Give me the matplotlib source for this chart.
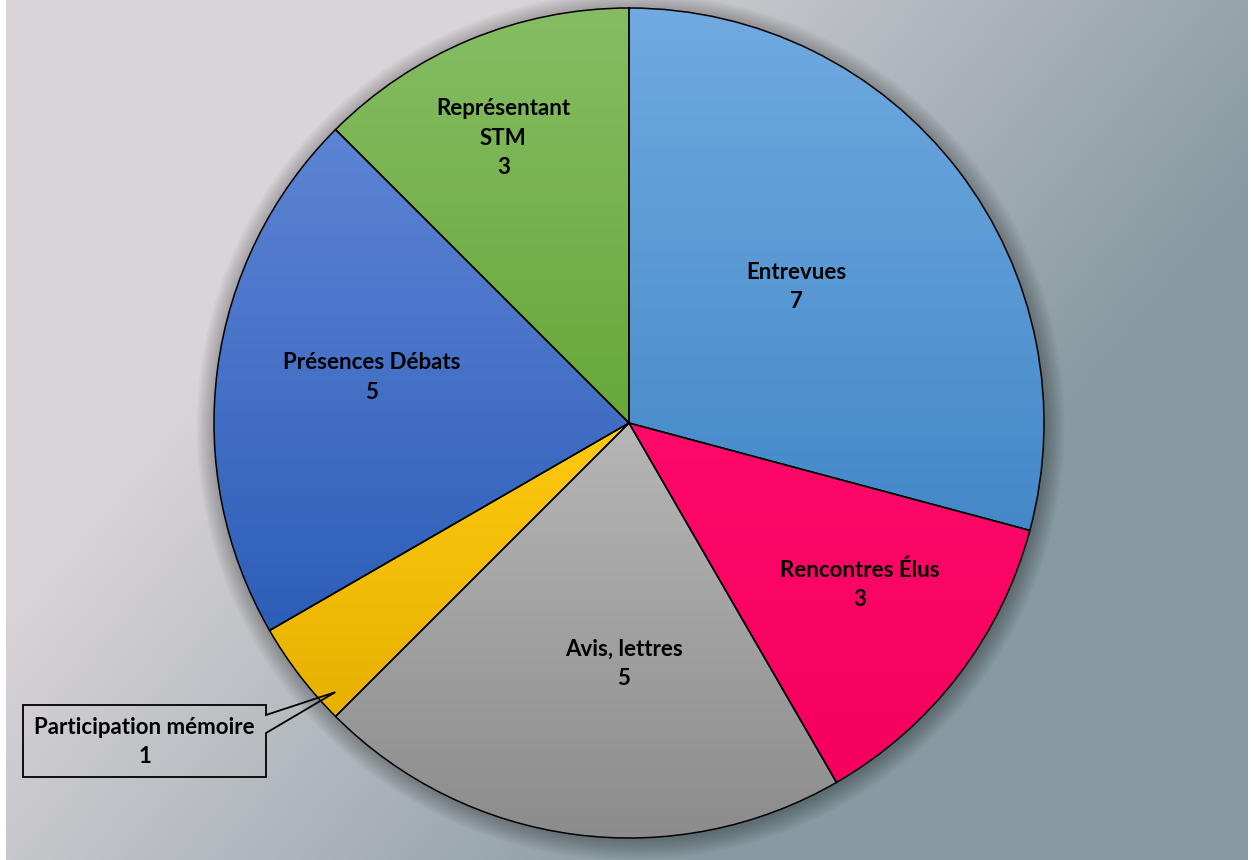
import numpy as np
import matplotlib.pyplot as plt
from matplotlib.patches import Polygon, Circle
from matplotlib.colors import LinearSegmentedColormap, to_rgb

# Data
categories = ["Entrevues", "Rencontres Élus", "Avis, lettres",
              "Participation mémoire", "Présences Débats", "Représentant\nSTM"]
values = [7, 3, 5, 1, 5, 3]

# Slice gradients (top colour, bottom colour)
grad_top = ["#70aae0", "#ff0a6a", "#b6b6b6", "#ffca10", "#5d84d4", "#86bd64"]
grad_bot = ["#4388c8", "#f5005e", "#8c8c8c", "#e8b000", "#2d5eb8", "#66a838"]

# label placement (fraction of radius, nudge in degrees from slice middle)
label_r = [0.52, 0.68, 0.58, None, 0.63, 0.75]
label_nudge = [1.5, 2.5, 6.3, 0, -2.5, 1.3]

plt.rcParams['font.family'] = ['Lato', 'DejaVu Sans']
FS = 16

W, H = 1251, 860
cx, cy, R = 629, 423, 415
fig = plt.figure(figsize=(W / 100, H / 100), dpi=100, facecolor='white')

# background: diagonal linear gradient, light pinkish grey -> blue grey
bg = fig.add_axes([6 / W, 0, 1242 / W, 1])
bg.set_axis_off()
light, dark = np.array(to_rgb("#d9d4d8")), np.array(to_rgb("#879aa1"))
xs = np.linspace(6, 1248, 400)[None, :]
ys = np.linspace(0, 860, 300)[:, None]
t = np.clip(0.001108 * xs + 0.000915 * ys - 0.568, 0, 1)[..., None]
img = (1 - t) * light + t * dark
bg.imshow(img, aspect='auto', extent=(0, 1, 0, 1), origin='upper')
bg.set_xlim(0, 1)
bg.set_ylim(0, 1)

ax = fig.add_axes([0, 0, 1, 1])
ax.set_axis_off()
ax.patch.set_alpha(0)

# soft shadow
for k in range(10):
    ax.add_patch(Circle((0.004, -0.008), 1.0 + k * 0.005, color='black',
                        alpha=0.03, lw=0, zorder=0.5))

wedges, _ = ax.pie(values, startangle=90, counterclock=False, radius=1,
                   wedgeprops=dict(edgecolor='black', linewidth=1.1))

for w, c0, c1 in zip(wedges, grad_top, grad_bot):
    ext = w.get_path().get_extents()
    cmap = LinearSegmentedColormap.from_list('g', [c1, c0])
    grad = np.linspace(0, 1, 256)[:, None]
    im = ax.imshow(grad, cmap=cmap, origin='lower', aspect='auto',
                   extent=(ext.x0, ext.x1, ext.y0, ext.y1), zorder=1)
    im.set_clip_path(w)
    w.set_facecolor('none')
    w.set_zorder(3)

# labels
total = sum(values)
start = 90.0
mids = []
for val in values:
    ang = val / total * 360
    mids.append(start - ang / 2)
    start -= ang

for i, (cat, val) in enumerate(zip(categories, values)):
    if label_r[i] is None:
        continue
    a = np.deg2rad(mids[i] + label_nudge[i])
    ax.text(label_r[i] * np.cos(a), label_r[i] * np.sin(a), f"{cat}\n{val}",
            ha='center', va='center', fontsize=FS, fontweight='bold',
            linespacing=1.5, zorder=5)

# callout for the small slice
def p(px, py):
    return ((px - cx) / R, (cy - py) / R)

a = np.deg2rad(mids[3] + 5)
tip = (0.96 * np.cos(a), 0.96 * np.sin(a))
box = [p(23, 705), p(266, 705), p(266, 715), tip, p(266, 733),
       p(266, 777), p(23, 777)]
ax.add_patch(Polygon(box, closed=True, fill=False, edgecolor='black',
                     linewidth=1.3, zorder=5))
bx, by = p(144.5, 742)
ax.text(bx, by, f"{categories[3]}\n{values[3]}", ha='center', va='center',
        fontsize=FS, fontweight='bold', linespacing=1.5, zorder=5)

ax.set_xlim(-cx / R, (W - cx) / R)
ax.set_ylim(-(H - cy) / R, cy / R)

fig.savefig("out.png", dpi=100, facecolor='white')
